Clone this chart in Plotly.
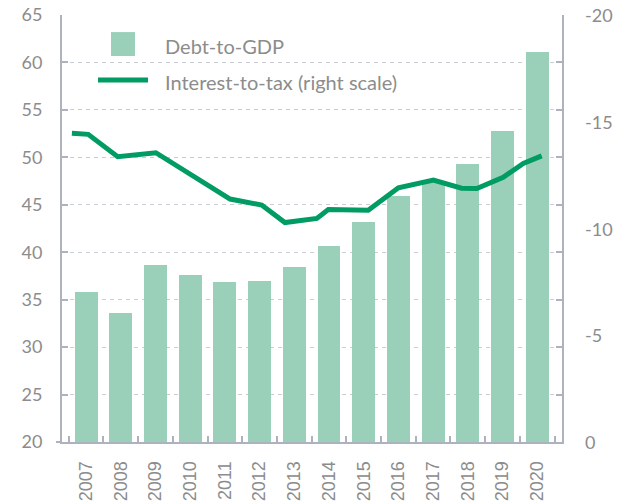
import plotly.graph_objects as go

# Annual debt-to-GDP ratio (left scale, %)
years = [2007, 2008, 2009, 2010, 2011, 2012, 2013, 2014, 2015, 2016, 2017, 2018, 2019, 2020]
year_labels = [str(y) for y in years]
debt_to_gdp = [35.8, 33.6, 38.7, 37.6, 36.9, 37.0, 38.4, 40.7, 43.2, 45.9, 47.4, 49.3, 52.8, 61.1]

# Interest-to-tax ratio (right scale, %), sampled through the period
interest_period = [2006.59, 2007.06, 2007.91, 2009.01, 2011.15, 2012.06, 2012.73, 2013.16,
                   2013.65, 2013.98, 2015.13, 2016.00, 2017.01, 2017.82, 2018.26, 2019.02,
                   2019.60, 2020.13]
interest_to_tax = [-14.46, -14.41, -13.36, -13.55, -11.38, -11.10, -10.28, -10.39,
                   -10.47, -10.89, -10.86, -11.91, -12.27, -11.89, -11.87, -12.40,
                   -13.05, -13.40]

left_ticks = [20, 25, 30, 35, 40, 45, 50, 55, 60, 65]
right_ticks = [0, -5, -10, -15, -20]
right_tick_labels = ["0", "-5", "-10", "-15", "-20"]
category_edges = [y - 0.5 for y in years] + [years[-1] + 0.5]

BAR_COLOR = "#9ACFB9"
LINE_COLOR = "#009C63"
TEXT_COLOR = "#8C8C8C"
AXIS_COLOR = "#ADB2BF"
GRID_COLOR = "#C9CCD3"

fig = go.Figure()

fig.add_trace(go.Bar(
    x=years, y=debt_to_gdp, width=0.66,
    marker=dict(color=BAR_COLOR, line=dict(width=0)),
    name="Debt-to-GDP", yaxis="y", showlegend=False,
))

fig.add_trace(go.Scatter(
    x=interest_period, y=interest_to_tax, mode="lines",
    line=dict(color=LINE_COLOR, width=5),
    name="Interest-to-tax (right scale)", yaxis="y2", showlegend=False,
))

fig.update_layout(
    width=617, height=502,
    margin=dict(l=62, r=55, t=15, b=60, autoexpand=False),
    plot_bgcolor="white", paper_bgcolor="white",
    bargap=0,
    xaxis=dict(
        range=[2006.305, 2020.715], automargin=False,
        tickmode="array", tickvals=years, ticktext=year_labels,
        tickangle=-90, ticks="",
        tickfont=dict(family="Liberation Sans", size=18, color=TEXT_COLOR),
        ticklabelstandoff=10,
        showline=True, linecolor=AXIS_COLOR, linewidth=2,
        showgrid=False, zeroline=False,
        minor=dict(tickmode="array", tickvals=category_edges, ticks="inside",
                   ticklen=6, tickwidth=1.5, tickcolor=AXIS_COLOR, showgrid=False),
    ),
    yaxis=dict(
        range=[20, 65], automargin=False, tickmode="array", tickvals=left_ticks,
        ticks="inside", ticklen=6, tickwidth=1.5, tickcolor=AXIS_COLOR,
        showline=True, linecolor=AXIS_COLOR, linewidth=2, mirror="ticks",
        showgrid=True, gridcolor=GRID_COLOR, gridwidth=1, griddash="4px,4px",
        zeroline=False,
        tickfont=dict(family="Lato", size=18, color=TEXT_COLOR),
        ticklabelstandoff=14,
    ),
    yaxis2=dict(
        overlaying="y", side="right", automargin=False,
        range=[0, -20], showticklabels=False,
        ticks="", showline=False, showgrid=False, zeroline=False,
    ),
)

# Right-scale labels, placed on the y2 scale and offset from the frame
for val, lab in zip(right_ticks, right_tick_labels):
    fig.add_annotation(xref="paper", yref="y2", x=1.042, y=val, text=lab,
                       showarrow=False, xanchor="left", yanchor="middle",
                       font=dict(family="Lato", size=18, color=TEXT_COLOR))

# Legend keys and labels
fig.add_shape(type="rect", xref="paper", yref="paper",
              x0=0.098, x1=0.146, y0=0.904, y1=0.960,
              fillcolor=BAR_COLOR, line=dict(width=0))
fig.add_shape(type="line", xref="paper", yref="paper",
              x0=0.072, x1=0.172, y0=0.848, y1=0.848,
              line=dict(color=LINE_COLOR, width=5))
fig.add_annotation(xref="paper", yref="paper", x=0.202, y=0.927,
                   text="Debt-to-GDP", showarrow=False, xanchor="left", yanchor="middle",
                   font=dict(family="Lato", size=20, color=TEXT_COLOR))
fig.add_annotation(xref="paper", yref="paper", x=0.202, y=0.842,
                   text="Interest-to-tax (right scale)", showarrow=False,
                   xanchor="left", yanchor="middle",
                   font=dict(family="Lato", size=20, color=TEXT_COLOR))

# Baseline extends a little past the left axis
fig.add_shape(type="line", xref="paper", yref="paper",
              x0=-0.012, x1=0.0, y0=0, y1=0,
              line=dict(color=AXIS_COLOR, width=2))

fig.write_html("out.html")
